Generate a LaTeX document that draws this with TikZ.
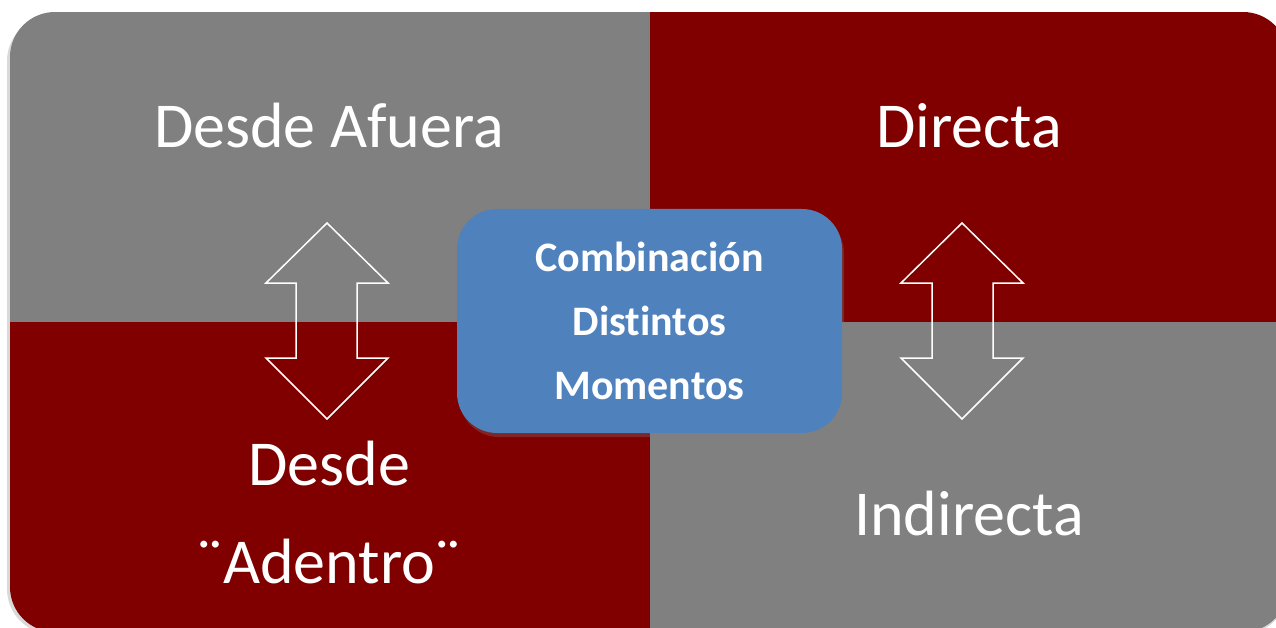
\documentclass[tikz,border=0pt]{standalone}
\usepackage{fontspec}
\setmainfont[Ligatures=CommonOff]{Carlito}
\usetikzlibrary{shadows}
\definecolor{qgray}{HTML}{808080}
\definecolor{qred}{HTML}{800000}
\definecolor{cblue}{HTML}{4F81BD}
\tikzset{
  bigtext/.style={text=white, anchor=base, inner sep=0pt, font=\fontsize{64}{76}\selectfont},
  centerbox/.style={fill=cblue, rounded corners=40pt, minimum width=385pt, minimum height=224pt,
    text=white, align=center, font=\bfseries\fontsize{42}{64}\selectfont,
    drop shadow={shadow xshift=2pt, shadow yshift=-4pt, opacity=0.3}},
  dblarrow/.style={draw=white, line width=1.5pt, line join=miter}
}
\begin{document}
\begin{tikzpicture}[x=1pt,y=-1pt]
\useasboundingbox (0,0) rectangle (1276,628);
\clip (0,0) rectangle (1276,628);
% outer shadow
\fill[black, opacity=0.15, rounded corners=45pt] (7,16) rectangle (1288,634);
\begin{scope}
  \clip[rounded corners=45pt] (10,12) rectangle (1288,632);
  \fill[qgray] (10,12) rectangle (650,322);
  \fill[qred] (650,12) rectangle (1288,322);
  \fill[qred] (10,322) rectangle (650,632);
  \fill[qgray] (650,322) rectangle (1288,632);
\end{scope}
% texts
\node[bigtext] (da) at (329,148) {Desde Afuera};
\node[bigtext] (di) at (969,148) {Directa};
\node[bigtext] (dd) at (329,485) {Desde};
\node[bigtext] (ad) at (329,583) {¨Adentro¨};
\node[bigtext] (in) at (969,535) {Indirecta};
% double arrows
\draw[dblarrow] (327,223) -- (388,283) -- (357,283) -- (357,358) -- (388,358) -- (327,419)
  -- (266,358) -- (296,358) -- (296,283) -- (266,283) -- cycle;
\draw[dblarrow] (962,223) -- (1023,283) -- (993,283) -- (993,358) -- (1023,358) -- (962,419)
  -- (901,358) -- (932,358) -- (932,283) -- (901,283) -- cycle;
% center box
\node[centerbox] (cb) at (649.5,321) {Combinación\\Distintos\\Momentos};
\end{tikzpicture}
\end{document}
